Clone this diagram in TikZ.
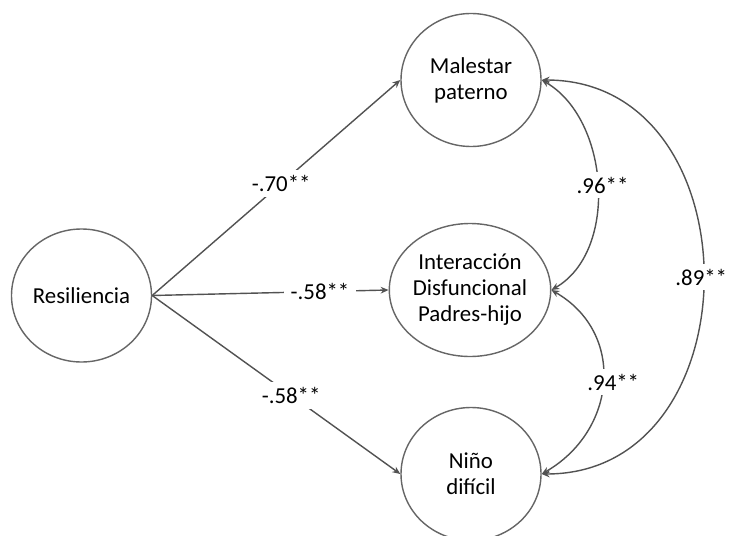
\documentclass[tikz,border=0pt]{standalone}
\usepackage{fontspec}
\setmainfont{Carlito}
\usetikzlibrary{arrows.meta,shapes.geometric}
\tikzset{>={Stealth[length=4.5pt,width=3.8pt]}}
\tikzset{
  var/.style={draw=black!60,line width=.8pt,ellipse,
    minimum width=2.8cm,minimum height=2.66cm,inner sep=0pt,align=center},
  link/.style={->,draw=black!68,line width=.8pt},
  coef/.style={fill=white,inner xsep=4pt,inner ysep=3pt}
}

\begin{document}
\begin{tikzpicture}[font=\fontsize{13}{14.8}\selectfont]
\useasboundingbox (0,0) rectangle (14.7,10.7);
% latent variables
\node[var] (resiliencia) at (1.63,4.79) {Resiliencia};
\node[var] (malestar)    at (9.42,9.10) {Malestar\\paterno};
\node[var] (interaccion) at (9.40,4.90) {Interacción\\Disfuncional\\Padres-hijo};
\node[var] (nino)        at (9.42,1.22) {Niño\\difícil};
% paths
\draw[link] (resiliencia.east) -- node[coef,pos=.52] {-.70**} (malestar.west);
\draw[link] (resiliencia.east) -- node[coef,pos=.71] {-.58**} (interaccion.west);
\draw[link] (resiliencia.east) -- node[coef,pos=.56] {-.58**} (nino.west);
% correlations
\draw[link,<->] (malestar.east) to[out=-30,in=30,looseness=.95]
  node[coef,xshift=3pt] {.96**} (interaccion.east);
\draw[link,<->] (interaccion.east) to[out=-30,in=30,looseness=1.2]
  node[coef,xshift=6pt] {.94**} (nino.east);
\draw[link,<->] (malestar.east) to[out=0,in=0,looseness=1.4]
  node[coef,xshift=-1pt,inner xsep=2pt] {.89**} (nino.east);
\end{tikzpicture}
\end{document}
